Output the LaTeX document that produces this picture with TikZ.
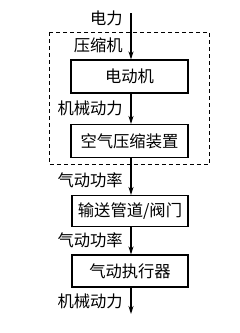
\documentclass[tikz,border=0pt]{standalone}
\usepackage{fontspec}
\setmainfont{Noto Sans CJK SC}
\usetikzlibrary{arrows.meta}
\begin{document}
\begin{tikzpicture}[x=1pt,y=-1pt,
  blk/.style={draw,line width=1.1pt,minimum width=117pt,minimum height=33pt,inner sep=0pt,font=\fontsize{16.3}{17}\selectfont},
  lbl/.style={anchor=east,inner sep=0pt,font=\fontsize{16.3}{17}\selectfont},
  flow/.style={line width=1.1pt,-{Stealth[length=8pt,width=5pt]}}]
\useasboundingbox (0,0) rectangle (240,333);
\draw[dashed,line width=0.8pt,dash pattern=on 4pt off 3pt] (49,32) rectangle (209.5,164);
\node[blk] (b1) at (129.5,76.5) {电动机};
\node[blk] (b2) at (129.5,141) {空气压缩装置};
\node[blk,minimum width=116pt,minimum height=31pt] (b3) at (130,211) {输送管道/阀门};
\node[blk,minimum width=116pt,minimum height=32pt] (b4) at (130,271) {气动执行器};
\coordinate (ax) at (131,0);
\coordinate (top) at (131,13);
\coordinate (bot) at (131,314);
\draw[flow] (top) -- (ax |- b1.north);
\draw[flow] (ax |- b1.south) -- (ax |- b2.north);
\draw[flow] (ax |- b2.south) -- (ax |- b3.north);
\draw[flow] (ax |- b3.south) -- (ax |- b4.north);
\draw[flow] (ax |- b4.south) -- (bot);
\node[lbl] (l0) at (123,18) {电力};
\node[lbl] (l1) at (123,45) {压缩机};
\node[lbl] (l2) at (123,108) {机械动力};
\node[lbl] (l3) at (123,180) {气动功率};
\node[lbl] (l4) at (123,240) {气动功率};
\node[lbl] (l5) at (123,301) {机械动力};
\end{tikzpicture}
\end{document}
